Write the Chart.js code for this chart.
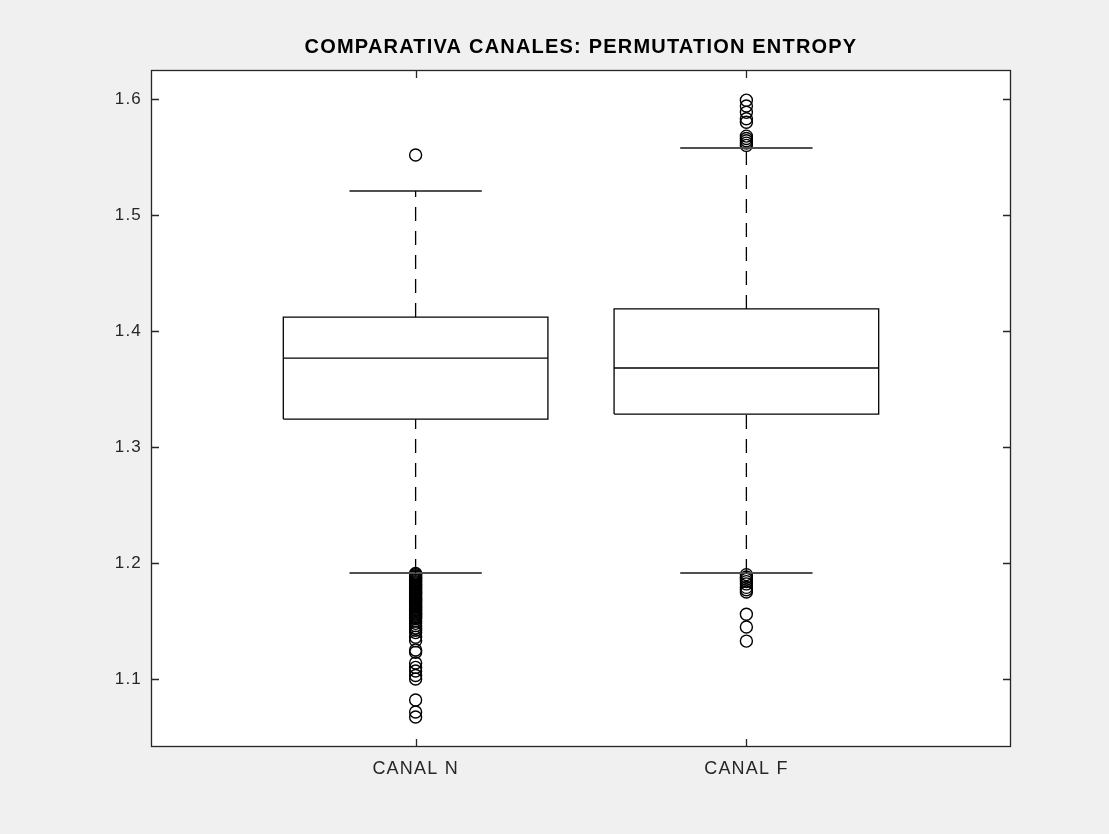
<!DOCTYPE html>
<html>
<head>
<meta charset="utf-8">
<title>Comparativa canales: Permutation Entropy</title>
<script src="https://cdn.jsdelivr.net/npm/chart.js@4.4.1/dist/chart.umd.min.js"></script>
<style>
  html, body { margin: 0; padding: 0; background: #f0f0f0; }
  #wrap { width: 1109px; height: 834px; }
</style>
</head>
<body>
<div id="wrap"><canvas id="chart" width="1109" height="834"></canvas></div>
<script>
// ---- data ----
const categories = ['CANAL N', 'CANAL F'];
const categoryPos = [1, 2];
const q1 = [1.3241, 1.3284];
const median = [1.3767, 1.3681];
const q3 = [1.4120, 1.4190];
const whiskerLow = [1.1914, 1.1914];
const whiskerHigh = [1.5207, 1.5578];

const outliersN = [
  1.5517,
  1.1910, 1.1900, 1.1890, 1.1880, 1.1870, 1.1860, 1.1850, 1.1840, 1.1830, 1.1820,
  1.1810, 1.1800, 1.1790, 1.1780, 1.1770, 1.1760, 1.1750, 1.1740, 1.1730, 1.1720,
  1.1710, 1.1700, 1.1690, 1.1680, 1.1670, 1.1660, 1.1650, 1.1640, 1.1630, 1.1620,
  1.1610, 1.1600, 1.1590, 1.1580, 1.1570, 1.1560, 1.1550, 1.1540, 1.1530, 1.1520,
  1.1500, 1.1480, 1.1460, 1.1440, 1.1420, 1.1400, 1.1361, 1.1330, 1.1250, 1.1230,
  1.1138, 1.1100, 1.1069, 1.1030, 1.1000, 1.0819, 1.0716, 1.0673
];
const outliersF = [
  1.5990, 1.5940, 1.5885, 1.5830, 1.5800, 1.5680, 1.5660, 1.5640, 1.5620, 1.5600,
  1.1900, 1.1880, 1.1860, 1.1840, 1.1820, 1.1790, 1.1770, 1.1750,
  1.1559, 1.1448, 1.1327
];

const yTicks = [1.1, 1.2, 1.3, 1.4, 1.5, 1.6];
const yRange = [1.0414, 1.625];
const xRange = [0.2, 2.8];

// ---- geometry of the glyphs (in category units) ----
const BOX_HALF = 0.4;
const CAP_HALF = 0.2;

const FONT = "'Liberation Sans', Arial, Helvetica, sans-serif";
const INK = '#000000';
const AXIS = '#262626';

function line(points, extra) {
  return Object.assign({
    data: points,
    showLine: true,
    borderColor: INK,
    borderWidth: 1.3,
    pointRadius: 0,
    pointHoverRadius: 0,
    fill: false,
    tension: 0
  }, extra || {});
}

const datasets = [];
const outlierSets = [outliersN, outliersF];
categoryPos.forEach((x, i) => {
  // box
  datasets.push(line([
    { x: x - BOX_HALF, y: q1[i] }, { x: x + BOX_HALF, y: q1[i] },
    { x: x + BOX_HALF, y: q3[i] }, { x: x - BOX_HALF, y: q3[i] },
    { x: x - BOX_HALF, y: q1[i] }
  ]));
  // median
  datasets.push(line([{ x: x - BOX_HALF, y: median[i] }, { x: x + BOX_HALF, y: median[i] }]));
  // whiskers (dashed)
  datasets.push(line([{ x: x, y: q3[i] }, { x: x, y: whiskerHigh[i] }], { borderDash: [14, 10] }));
  datasets.push(line([{ x: x, y: whiskerLow[i] }, { x: x, y: q1[i] }], { borderDash: [14, 10] }));
  // caps
  datasets.push(line([{ x: x - CAP_HALF, y: whiskerHigh[i] }, { x: x + CAP_HALF, y: whiskerHigh[i] }],
    { borderColor: '#505050', borderWidth: 2 }));
  datasets.push(line([{ x: x - CAP_HALF, y: whiskerLow[i] }, { x: x + CAP_HALF, y: whiskerLow[i] }],
    { borderColor: '#505050', borderWidth: 2 }));
  // outliers
  datasets.push({
    data: outlierSets[i].map(v => ({ x: x, y: v })),
    showLine: false,
    pointStyle: 'circle',
    pointRadius: 6,
    pointHoverRadius: 6,
    pointBorderWidth: 1.4,
    pointBorderColor: INK,
    pointBackgroundColor: 'rgba(0,0,0,0)'
  });
});

// white plot area, frame and inward tick marks on all four sides
const framePlugin = {
  id: 'frame',
  beforeDraw(chart) {
    // slightly widened glyph spacing for every text item
    chart.ctx.letterSpacing = '1.2px';
  },
  beforeDatasetsDraw(chart) {
    const { ctx, chartArea: a } = chart;
    ctx.save();
    ctx.fillStyle = '#ffffff';
    ctx.fillRect(a.left, a.top, a.right - a.left, a.bottom - a.top);
    ctx.restore();
  },
  afterDraw(chart) {
    const { ctx, chartArea: a, scales } = chart;
    const TL = 8;
    ctx.save();
    ctx.strokeStyle = AXIS;
    ctx.lineWidth = 1.3;
    ctx.strokeRect(a.left + 0.5, a.top + 0.5, a.right - a.left - 1, a.bottom - a.top - 1);
    ctx.beginPath();
    yTicks.forEach(v => {
      const py = Math.round(scales.y.getPixelForValue(v)) + 0.5;
      ctx.moveTo(a.left, py); ctx.lineTo(a.left + TL, py);
      ctx.moveTo(a.right, py); ctx.lineTo(a.right - TL, py);
    });
    categoryPos.forEach(v => {
      const px = Math.round(scales.x.getPixelForValue(v)) + 0.5;
      ctx.moveTo(px, a.bottom); ctx.lineTo(px, a.bottom - TL);
      ctx.moveTo(px, a.top); ctx.lineTo(px, a.top + TL);
    });
    ctx.stroke();
    ctx.restore();
  }
};

new Chart(document.getElementById('chart'), {
  type: 'scatter',
  data: { datasets },
  plugins: [framePlugin],
  options: {
    responsive: false,
    animation: false,
    events: [],
    layout: { padding: { left: 0, right: 98, top: 0, bottom: 0 } },
    plugins: {
      legend: { display: false },
      tooltip: { enabled: false },
      title: {
        display: true,
        fullSize: false,
        text: 'COMPARATIVA CANALES: PERMUTATION ENTROPY',
        color: '#000000',
        font: { family: FONT, size: 20, weight: 'bold' },
        padding: { top: 35, bottom: 11 }
      }
    },
    scales: {
      x: {
        type: 'linear',
        min: xRange[0],
        max: xRange[1],
        grid: { display: false, drawTicks: false },
        border: { display: false },
        afterBuildTicks(scale) { scale.ticks = categoryPos.map(v => ({ value: v })); },
        afterFit(scale) { scale.height = 87; },
        ticks: {
          color: AXIS,
          padding: 11,
          maxRotation: 0,
          font: { family: FONT, size: 18 },
          callback: (v) => categories[categoryPos.indexOf(v)] || ''
        }
      },
      y: {
        type: 'linear',
        min: yRange[0],
        max: yRange[1],
        grid: { display: false, drawTicks: false },
        border: { display: false },
        afterBuildTicks(scale) { scale.ticks = yTicks.map(v => ({ value: v })); },
        afterFit(scale) { scale.width = 151; },
        ticks: {
          color: AXIS,
          padding: 9,
          font: { family: FONT, size: 17 },
          callback: (v) => v.toFixed(1)
        }
      }
    }
  }
});
</script>
</body>
</html>
